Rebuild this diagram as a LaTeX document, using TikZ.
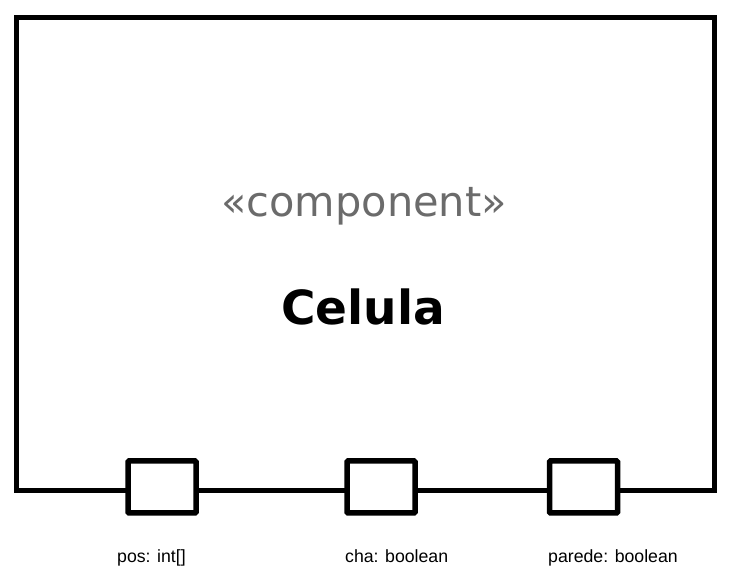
\documentclass[tikz,border=0pt]{standalone}
\usepackage{fontspec}
\setmainfont{DejaVu Sans}
\newfontfamily\labelfont{Liberation Sans}
\usepackage{tikz}
\usetikzlibrary{shapes,positioning}
\definecolor{stereogray}{HTML}{6B6B6B}
\tikzstyle{compbox} = [draw=black, line width=5pt, rectangle, minimum width=698pt, minimum height=473pt, inner sep=0pt]
\tikzstyle{portbox} = [draw=black, line width=5.5pt, rectangle, fill=white, minimum width=68pt, minimum height=52pt, inner sep=0pt, rounded corners=1pt]
\tikzstyle{portlabel} = [anchor=base west, inner sep=0pt, font=\labelfont\fontsize{17.7}{20}\selectfont]

\begin{document}
\begin{tikzpicture}[x=1pt,y=1pt]
\useasboundingbox (0,0) rectangle (734,575);
\node [compbox] (comp) at (365,320.5) {};
\node [text=stereogray, font=\fontsize{41.5}{46}\selectfont] (stereo) at (364,369) {«component»};
\node [font=\bfseries\fontsize{47}{52}\selectfont] (name) at (363,268) {Celula};
% ports on the bottom edge
\node [portbox] (pos) at (162,88) {};
\node [portbox] (cha) at (381,88) {};
\node [portbox] (parede) at (583.5,88) {};
\node [portlabel] (poslbl) at (117,12) {pos: int[]};
\node [portlabel] (chalbl) at (345,12) {cha: boolean};
\node [portlabel] (paredelbl) at (548,12) {parede: boolean};
\end{tikzpicture}
\end{document}
